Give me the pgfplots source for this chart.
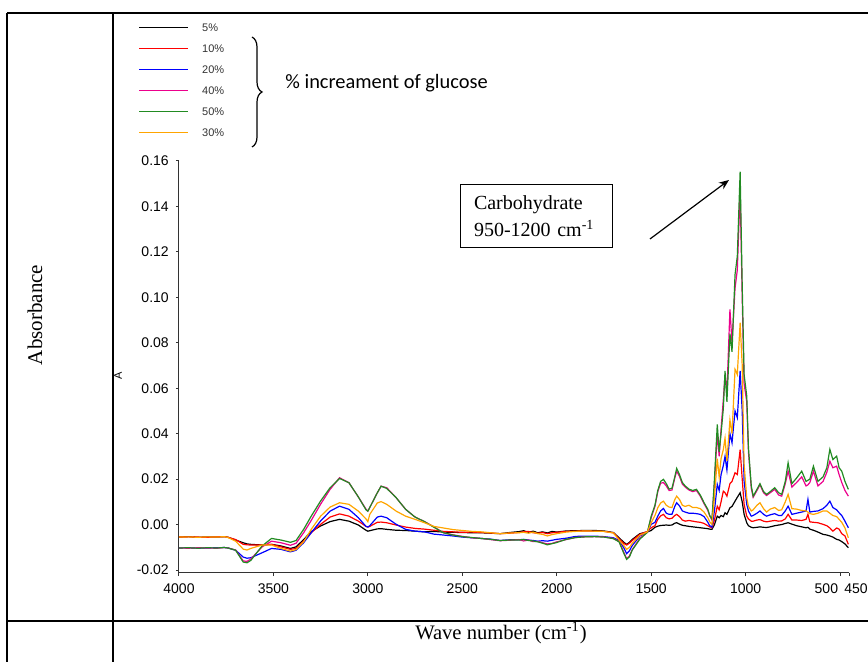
\documentclass[border=0pt]{standalone}
\usepackage{fontspec}
\setmainfont{Liberation Serif}
\newfontfamily\arial{Liberation Sans}
\newfontfamily\calibri{Carlito}
\usepackage{pgfplots}
\usepackage{pgfplotstable}
\pgfplotsset{compat=1.18}
\usetikzlibrary{arrows.meta,decorations.pathreplacing}

\definecolor{spGreen}{HTML}{228B22}
\definecolor{spOrange}{HTML}{FFA500}

% FTIR spectra, absorbance
% c5 c10 c20 c40 c50 c30 = % glucose
\pgfplotstableread{
wn    c5      c10     c20     c40     c50     c30
4000 -0.0055 -0.0055 -0.0103 -0.0103 -0.0103 -0.0055
3950 -0.0053 -0.0054 -0.0102 -0.0104 -0.0102 -0.0054
3900 -0.0056 -0.0055 -0.0104 -0.0102 -0.0104 -0.0056
3850 -0.0054 -0.0056 -0.0103 -0.0103 -0.0102 -0.0054
3800 -0.0055 -0.0054 -0.0102 -0.0104 -0.0103 -0.0055
3760 -0.0053 -0.0053 -0.0101 -0.0101 -0.0101 -0.0053
3740 -0.0056 -0.0056 -0.0103 -0.0103 -0.0103 -0.0057
3700 -0.0068 -0.0066 -0.0113 -0.0112 -0.0113 -0.0073
3660 -0.0080 -0.0087 -0.0143 -0.0160 -0.0165 -0.0108
3640 -0.0085 -0.0089 -0.0148 -0.0162 -0.0168 -0.0112
3620 -0.0087 -0.0090 -0.0146 -0.0152 -0.0158 -0.0105
3560 -0.0090 -0.0090 -0.0124 -0.0098 -0.0094 -0.0090
3510 -0.0087 -0.0087 -0.0105 -0.0073 -0.0061 -0.0090
3460 -0.0094 -0.0098 -0.0109 -0.0080 -0.0068 -0.0105
3410 -0.0105 -0.0109 -0.0120 -0.0091 -0.0078 -0.0117
3380 -0.0098 -0.0105 -0.0113 -0.0082 -0.0070 -0.0110
3340 -0.0066 -0.0073 -0.0080 -0.0036 -0.0021 -0.0076
3300 -0.0031 -0.0036 -0.0036  0.0018  0.0037 -0.0021
3250 -0.0006  0.0001  0.0016  0.0090  0.0104  0.0037
3200  0.0013  0.0033  0.0059  0.0155  0.0162  0.0077
3150  0.0023  0.0047  0.0081  0.0206  0.0203  0.0096
3100  0.0015  0.0037  0.0067  0.0184  0.0184  0.0089
3050 -0.0002  0.0015  0.0030  0.0121  0.0121  0.0059
3010 -0.0025 -0.0008 -0.0008  0.0068  0.0065  0.0025
3000 -0.0029 -0.0011 -0.0011  0.0059  0.0059  0.0013
2990 -0.0027 -0.0008 -0.0005  0.0075  0.0075  0.0045
2950 -0.0019  0.0010  0.0033  0.0140  0.0140  0.0095
2930 -0.0018  0.0011  0.0037  0.0169  0.0169  0.0101
2900 -0.0021  0.0008  0.0030  0.0162  0.0159  0.0089
2850 -0.0025 -0.0002  0.0001  0.0118  0.0118  0.0059
2800 -0.0026 -0.0011 -0.0021  0.0067  0.0067  0.0037
2750 -0.0029 -0.0017 -0.0029  0.0033  0.0033  0.0023
2700 -0.0032 -0.0020 -0.0032  0.0013  0.0013  0.0008
2650 -0.0030 -0.0025 -0.0042 -0.0010 -0.0012 -0.0008
2600 -0.0033 -0.0030 -0.0046 -0.0036 -0.0036 -0.0015
2550 -0.0034 -0.0032 -0.0050 -0.0045 -0.0046 -0.0022
2500 -0.0035 -0.0034 -0.0055 -0.0052 -0.0053 -0.0026
2450 -0.0036 -0.0033 -0.0058 -0.0058 -0.0057 -0.0030
2400 -0.0036 -0.0035 -0.0061 -0.0061 -0.0061 -0.0032
2350 -0.0038 -0.0037 -0.0064 -0.0066 -0.0065 -0.0036
2300 -0.0040 -0.0040 -0.0070 -0.0071 -0.0070 -0.0040
2250 -0.0035 -0.0038 -0.0067 -0.0069 -0.0068 -0.0037
2200 -0.0031 -0.0035 -0.0067 -0.0066 -0.0068 -0.0036
2175 -0.0027 -0.0032 -0.0065 -0.0072 -0.0066 -0.0034
2150 -0.0034 -0.0030 -0.0068 -0.0068 -0.0070 -0.0038
2125 -0.0029 -0.0036 -0.0070 -0.0075 -0.0072 -0.0033
2100 -0.0036 -0.0038 -0.0073 -0.0074 -0.0076 -0.0040
2075 -0.0032 -0.0035 -0.0071 -0.0080 -0.0082 -0.0043
2050 -0.0037 -0.0040 -0.0073 -0.0085 -0.0089 -0.0050
2025 -0.0030 -0.0036 -0.0069 -0.0083 -0.0084 -0.0044
2000 -0.0033 -0.0034 -0.0065 -0.0076 -0.0079 -0.0040
1950 -0.0028 -0.0030 -0.0060 -0.0066 -0.0065 -0.0033
1900 -0.0027 -0.0029 -0.0052 -0.0057 -0.0057 -0.0030
1850 -0.0026 -0.0028 -0.0051 -0.0054 -0.0054 -0.0028
1800 -0.0026 -0.0029 -0.0051 -0.0053 -0.0053 -0.0029
1750 -0.0028 -0.0030 -0.0053 -0.0054 -0.0055 -0.0030
1700 -0.0035 -0.0036 -0.0058 -0.0061 -0.0062 -0.0037
1670 -0.0058 -0.0063 -0.0070 -0.0074 -0.0076 -0.0067
1645 -0.0078 -0.0083 -0.0102 -0.0122 -0.0126 -0.0092
1630 -0.0087 -0.0090 -0.0128 -0.0150 -0.0153 -0.0109
1615 -0.0078 -0.0082 -0.0115 -0.0138 -0.0142 -0.0100
1600 -0.0065 -0.0070 -0.0092 -0.0110 -0.0112 -0.0082
1560 -0.0040 -0.0043 -0.0050 -0.0060 -0.0064 -0.0047
1520 -0.0032 -0.0030 -0.0033 -0.0034 -0.0034 -0.0032
1500 -0.0026 -0.0014  0.0001  0.0030  0.0037  0.0008
1480 -0.0012 -0.0005  0.0010  0.0080  0.0085  0.0040
1465 -0.0007  0.0023  0.0037  0.0145  0.0150  0.0074
1450 -0.0004  0.0038  0.0060  0.0182  0.0190  0.0095
1435 -0.0003  0.0045  0.0071  0.0185  0.0199  0.0103
1420 -0.0002  0.0030  0.0050  0.0170  0.0180  0.0085
1405 -0.0003  0.0025  0.0045  0.0150  0.0156  0.0077
1390 -0.0002  0.0028  0.0045  0.0152  0.0160  0.0075
1375  0.0006  0.0040  0.0080  0.0205  0.0210  0.0110
1365  0.0008  0.0045  0.0096  0.0235  0.0247  0.0125
1350  0.0002  0.0035  0.0082  0.0212  0.0220  0.0110
1335 -0.0003  0.0020  0.0060  0.0178  0.0185  0.0085
1320 -0.0005  0.0015  0.0055  0.0165  0.0170  0.0080
1300 -0.0008  0.0018  0.0050  0.0152  0.0156  0.0085
1280 -0.0010  0.0015  0.0050  0.0145  0.0150  0.0075
1260 -0.0012  0.0012  0.0048  0.0150  0.0155  0.0075
1240 -0.0014  0.0010  0.0045  0.0125  0.0130  0.0070
1220 -0.0016  0.0005  0.0035  0.0092  0.0096  0.0055
1200 -0.0018 -0.0005  0.0010  0.0062  0.0067  0.0030
1190 -0.0020 -0.0010 -0.0005  0.0038  0.0040  0.0012
1178 -0.0021 -0.0014 -0.0011  0.0020  0.0024  0.0001
1165  0.0000  0.0020  0.0060  0.0180  0.0200  0.0120
1150  0.0037  0.0081  0.0177  0.0400  0.0441  0.0290
1140  0.0030  0.0065  0.0150  0.0300  0.0320  0.0210
1130  0.0040  0.0100  0.0220  0.0420  0.0400  0.0290
1118  0.0035  0.0147  0.0260  0.0550  0.0510  0.0330
1109  0.0052  0.0140  0.0300  0.0660  0.0676  0.0380
1099  0.0045  0.0125  0.0240  0.0580  0.0540  0.0280
1083  0.0074  0.0180  0.0400  0.0947  0.0840  0.0460
1072  0.0080  0.0190  0.0360  0.0800  0.0760  0.0400
1056  0.0103  0.0228  0.0500  0.1040  0.1100  0.0683
1044  0.0120  0.0220  0.0470  0.1120  0.1180  0.0660
1029  0.0140  0.0330  0.0676  0.1468  0.1553  0.0888
1018  0.0100  0.0200  0.0500  0.1000  0.1050  0.0700
1008  0.0045  0.0089  0.0191  0.0620  0.0660  0.0265
994   0.0008  0.0037  0.0089  0.0540  0.0566  0.0118
985  -0.0005  0.0025  0.0060  0.0320  0.0338  0.0080
970  -0.0012  0.0015  0.0037  0.0160  0.0170  0.0060
960  -0.0014  0.0015  0.0040  0.0120  0.0125  0.0065
940  -0.0012  0.0020  0.0050  0.0150  0.0155  0.0085
924  -0.0010  0.0022  0.0060  0.0175  0.0180  0.0096
905  -0.0012  0.0015  0.0045  0.0140  0.0145  0.0070
889  -0.0013  0.0012  0.0037  0.0128  0.0133  0.0055
870  -0.0010  0.0015  0.0043  0.0140  0.0145  0.0068
846  -0.0005  0.0018  0.0048  0.0155  0.0162  0.0075
825  -0.0002  0.0015  0.0040  0.0130  0.0140  0.0062
809   0.0000  0.0016  0.0040  0.0125  0.0133  0.0065
790   0.0005  0.0025  0.0060  0.0180  0.0190  0.0100
775   0.0008  0.0045  0.0081  0.0235  0.0272  0.0133
755   0.0002  0.0020  0.0045  0.0165  0.0180  0.0070
730  -0.0005  0.0020  0.0050  0.0185  0.0205  0.0068
703  -0.0010  0.0018  0.0055  0.0210  0.0235  0.0062
680  -0.0014  0.0023  0.0060  0.0170  0.0190  0.0060
670  -0.0012  0.0045  0.0111  0.0175  0.0195  0.0055
660  -0.0020  0.0012  0.0055  0.0185  0.0200  0.0048
641  -0.0025  0.0010  0.0058  0.0235  0.0257  0.0045
617  -0.0033  0.0008  0.0060  0.0170  0.0190  0.0050
590  -0.0043  0.0001  0.0070  0.0190  0.0210  0.0060
570  -0.0046 -0.0005  0.0085  0.0230  0.0250  0.0060
554  -0.0050 -0.0015  0.0103  0.0279  0.0331  0.0050
538  -0.0055 -0.0029  0.0075  0.0250  0.0286  0.0040
518  -0.0065 -0.0015  0.0065  0.0257  0.0301  0.0035
505  -0.0068 -0.0020  0.0052  0.0220  0.0250  0.0023
491  -0.0075 -0.0040  0.0040  0.0185  0.0235  0.0010
474  -0.0085 -0.0050  0.0015  0.0150  0.0190 -0.0015
456  -0.0102 -0.0087 -0.0014  0.0125  0.0155 -0.0058
}\ftir

\begin{document}
\begin{tikzpicture}
\useasboundingbox (0,0) rectangle (434pt,331pt);
% table rules around the figure
\draw[line width=0.6pt] (3.5pt,324.5pt) -- (434pt,324.5pt);
\draw[line width=0.6pt] (3.5pt,324.5pt) -- (3.5pt,0pt);
\draw[line width=0.6pt] (56.5pt,324.5pt) -- (56.5pt,0pt);
\draw[line width=0.6pt] (3.5pt,20.5pt) -- (434pt,20.5pt);
\node[rotate=90, font=\fontsize{10.5}{12}\selectfont] at (17.5pt,173.5pt) {Absorbance};
\node[font=\fontsize{10.3}{12}\selectfont] at (250.5pt,14.5pt) {Wave number (cm\textsuperscript{-1})};
\node[rotate=90, font=\arial\fontsize{5.5}{6}\selectfont] at (59pt,143pt) {A};

\begin{axis}[at={(89.5pt,44.5pt)}, anchor=south west, scale only axis,
  width=335.25pt, height=206.5pt,
  x dir=reverse, xmin=450, xmax=4000, ymin=-0.0213, ymax=0.1604,
  axis x line*=bottom, axis y line*=left,
  axis line style={-, black!80, line width=0.5pt},
  xtick={4000,3500,3000,2500,2000,1500,1000,500,450},
  xticklabels={4000,3500,3000,2500,2000,1500,1000,
    \makebox[0pt][r]{500\hspace{1pt}},\makebox[0pt][l]{\hspace{-2.6pt}450}},
  ytick={-0.02,0,0.02,0.04,0.06,0.08,0.1,0.12,0.14,0.16},
  tick align=outside, major tick length=1.6pt,
  tick style={black!80, line width=0.5pt},
  ticklabel style={font=\arial\fontsize{7}{8}\selectfont},
  /pgf/number format/assume math mode=true,
  yticklabel style={/pgf/number format/.cd, fixed, fixed zerofill, precision=2},
  every axis plot/.append style={line width=0.6pt},
  legend image code/.code={\draw[#1, line width=0.9pt] (0pt,0pt) -- (24.5pt,0pt);},
  legend style={at={(-0.0611,1.3317)}, anchor=north west, draw=none, fill=none,
    inner sep=0pt, row sep=6.5pt,
    font=\arial\fontsize{5.5}{6}\selectfont, text=black!80,
    nodes={inner sep=0pt, text height=4pt, text depth=0pt},
    /tikz/every odd column/.style={column sep=6.5pt}},
  legend cell align=left]
  \addplot[black] table[x=wn, y=c5] {\ftir};
  \addlegendentry{5\%}
  \addplot[red] table[x=wn, y=c10] {\ftir};
  \addlegendentry{10\%}
  \addplot[blue] table[x=wn, y=c20] {\ftir};
  \addlegendentry{20\%}
  \addplot[magenta] table[x=wn, y=c40] {\ftir};
  \addlegendentry{40\%}
  \addplot[spGreen] table[x=wn, y=c50] {\ftir};
  \addlegendentry{50\%}
  \addplot[spOrange] table[x=wn, y=c30] {\ftir};
  \addlegendentry{30\%}
\end{axis}

% brace and note for the legend
\draw[line width=0.6pt, decorate, decoration={brace, amplitude=5pt}] (126pt,312.5pt) -- (126pt,257.5pt);
\node[anchor=west, inner sep=0pt, font=\calibri\fontsize{10.2}{12}\selectfont] at (142.5pt,289.5pt) {\% increament of glucose};

% annotation box and arrow
\node[draw, line width=0.5pt, align=left, text width=62pt, inner xsep=7pt, inner ysep=3pt,
  minimum height=31.5pt, font=\fontsize{10}{13.5}\selectfont] at (268pt,222.75pt)
  {Carbohydrate\\950-1200 cm\textsuperscript{-1}};
\draw[line width=0.6pt, -{Stealth[length=5pt,width=4pt]}] (325pt,211.5pt) -- (364.5pt,241pt);
\end{tikzpicture}
\end{document}
